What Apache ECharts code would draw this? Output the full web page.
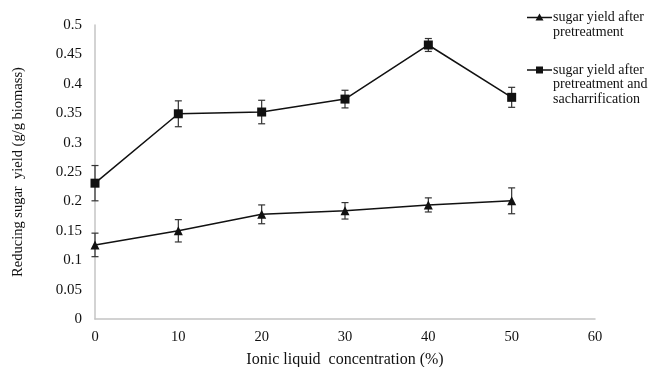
<!DOCTYPE html>
<html><head><meta charset="utf-8">
<script src="https://cdn.jsdelivr.net/npm/echarts@6/dist/echarts.min.js"></script>
<style>html,body{margin:0;padding:0;background:#fff}#c{width:654px;height:367px}</style>
</head><body><div id="c"></div>
<script>
var concentrations = [0, 10, 20, 30, 40, 50];
var yieldPretreat = [0.126, 0.150, 0.178, 0.184, 0.194, 0.201];
var errPretreat = [0.020, 0.019, 0.016, 0.014, 0.012, 0.022];
var yieldSacch = [0.231, 0.349, 0.352, 0.374, 0.466, 0.377];
var errSacch = [0.030, 0.022, 0.020, 0.015, 0.011, 0.017];
var seriesNames = ['sugar yield after pretreatment', 'sugar yield after pretreatment and sacharrification'];
var legendLines = [['sugar yield after', 'pretreatment'], ['sugar yield after', 'pretreatment and', 'sacharrification']];

var font = '"Liberation Serif", "Times New Roman", serif';
var chart = echarts.init(document.getElementById('c'));

function errData(vals, errs) {
  return concentrations.map(function (x, i) { return [x, vals[i] - errs[i], vals[i] + errs[i]]; });
}
function errRender(params, api) {
  var x = api.value(0);
  var lo = api.coord([x, api.value(1)]);
  var hi = api.coord([x, api.value(2)]);
  var w = 3.5;
  var st = { stroke: '#333', lineWidth: 1.2 };
  return { type: 'group', children: [
    { type: 'line', shape: { x1: lo[0], y1: lo[1], x2: hi[0], y2: hi[1] }, style: st },
    { type: 'line', shape: { x1: lo[0] - w, y1: lo[1], x2: lo[0] + w, y2: lo[1] }, style: st },
    { type: 'line', shape: { x1: hi[0] - w, y1: hi[1], x2: hi[0] + w, y2: hi[1] }, style: st }
  ]};
}

var legendX = 527, legendY = [17.5, 70], lineH = 14.5;
var legendGraphics = [];
['triangle', 'rect'].forEach(function (sym, k) {
  var y = legendY[k];
  legendGraphics.push({ type: 'line', shape: { x1: legendX, y1: y, x2: legendX + 25, y2: y }, style: { stroke: '#111', lineWidth: 1.5 } });
  if (sym === 'triangle') {
    legendGraphics.push({ type: 'polygon', shape: { points: [[legendX + 12.5, y - 4], [legendX + 16.5, y + 3], [legendX + 8.5, y + 3]] }, style: { fill: '#111' } });
  } else {
    legendGraphics.push({ type: 'rect', shape: { x: legendX + 9, y: y - 3.5, width: 7, height: 7 }, style: { fill: '#111' } });
  }
  legendLines[k].forEach(function (t, j) {
    legendGraphics.push({ type: 'text', x: legendX + 26, y: y + j * lineH,
      style: { text: t, font: '14px ' + font, fill: '#111', textVerticalAlign: 'middle', verticalAlign: 'middle' } });
  });
});

chart.setOption({
  backgroundColor: '#fff',
  animation: false,
  grid: { left: 95, right: 59, top: 25, bottom: 48, containLabel: false, outerBoundsMode: 'none' },
  xAxis: {
    type: 'value', min: 0, max: 60, interval: 10,
    name: 'Ionic liquid  concentration (%)', nameLocation: 'middle', nameGap: 33,
    nameTextStyle: { fontFamily: font, fontSize: 16, color: '#111' },
    axisLine: { lineStyle: { color: '#c4c4c4', width: 1.5 } },
    axisTick: { show: false },
    splitLine: { show: false },
    axisLabel: { fontFamily: font, fontSize: 14.5, color: '#111', margin: 11 }
  },
  yAxis: {
    type: 'value', min: 0, max: 0.5, interval: 0.05,
    name: 'Reducing sugar  yield (g/g biomass)', nameLocation: 'middle', nameGap: 69,
    nameTextStyle: { fontFamily: font, fontSize: 14.5, color: '#111' },
    axisLine: { show: true, lineStyle: { color: '#c4c4c4', width: 1.5 } },
    axisTick: { show: false },
    splitLine: { show: false },
    axisLabel: { fontFamily: font, fontSize: 15, color: '#111', margin: 13,
      formatter: function (v) { return String(Math.round(v * 100) / 100); } }
  },
  series: [
    { name: seriesNames[0], type: 'line', data: concentrations.map(function (x, i) { return [x, yieldPretreat[i]]; }),
      symbol: 'triangle', symbolSize: 9, showAllSymbol: true,
      lineStyle: { color: '#111', width: 1.5 }, itemStyle: { color: '#111' }, z: 3 },
    { name: seriesNames[1], type: 'line', data: concentrations.map(function (x, i) { return [x, yieldSacch[i]]; }),
      symbol: 'rect', symbolSize: 9, showAllSymbol: true,
      lineStyle: { color: '#111', width: 1.5 }, itemStyle: { color: '#111' }, z: 3 },
    { type: 'custom', renderItem: errRender, data: errData(yieldPretreat, errPretreat), encode: { x: 0, y: [1, 2] }, z: 2 },
    { type: 'custom', renderItem: errRender, data: errData(yieldSacch, errSacch), encode: { x: 0, y: [1, 2] }, z: 2 }
  ],
  graphic: legendGraphics
});
</script></body></html>
